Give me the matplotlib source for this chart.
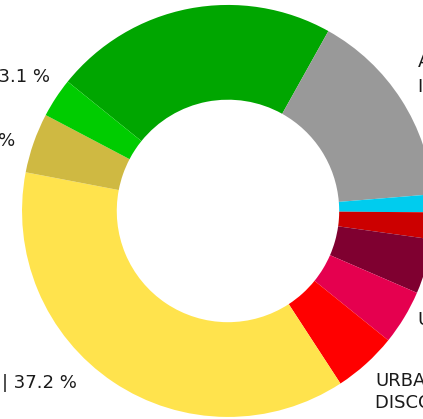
import matplotlib.pyplot as plt

# wedge shares (%), clockwise from the upper-left green wedge
shares = [22.3, 15.6, 1.4, 2.1, 4.3, 4.3, 5.0, 37.2, 4.7, 3.1]
colors = ["#00a600", "#999999", "#00ccee", "#cc0000", "#7f0030",
          "#e5004f", "#ff0000", "#ffe34d", "#cfb942", "#00cc00"]
names = ["SUPERMARCHÉS", "AUTRES\nINDÉPENDANTS", "CASH", "DRIVE", "GROSSISTES",
         "UNIVERS", "URBAIN\nDISCOUNT", "HYPERMARCHÉS", "PROXIMITÉ", "E-COMMERCE"]

# label anchor points (data units) for the labels that show in the frame
label_pos = {1: (0.922, 0.663, "left"), 5: (0.922, -0.529, "left"),
             6: (0.714, -0.879, "left"), 7: (-0.733, -0.830, "right"),
             8: (-1.034, 0.345, "right"), 9: (-0.864, 0.650, "right")}


def main():
    fig = plt.figure(figsize=(4.23, 4.19), dpi=100)
    ax = fig.add_axes([0, 0, 1, 1])
    ax.pie(shares, colors=colors, startangle=141.1, counterclock=False,
           radius=1.0, wedgeprops=dict(width=0.46, linewidth=0))
    for i, (x, y, ha) in label_pos.items():
        ax.text(x, y, f"{names[i]} | {shares[i]:.1f} %", ha=ha, va="center",
                fontsize=13, color="#1a1a1a", linespacing=1.3)
    ax.set_xlim(-1.107, 0.947)
    ax.set_ylim(-1.010, 1.024)
    ax.set_aspect("auto")
    ax.axis("off")
    fig.savefig("out.png", dpi=100)


if __name__ == "__main__":
    main()
